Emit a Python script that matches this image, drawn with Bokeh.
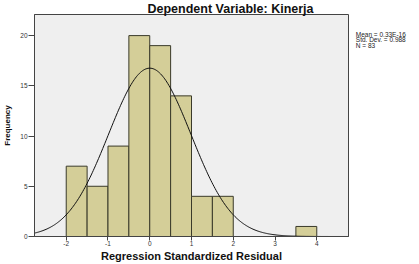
import numpy as np
from bokeh.plotting import figure
from bokeh.layouts import row
from bokeh.models import FixedTicker, Range1d
from bokeh.core.properties import value
from bokeh.embed import file_html
from bokeh.resources import INLINE

# Histogram bins (Regression Standardized Residual) and frequencies
bin_left = [-2.0, -1.5, -1.0, -0.5, 0.0, 0.5, 1.0, 1.5, 3.5]
bin_right = [-1.5, -1.0, -0.5, 0.0, 0.5, 1.0, 1.5, 2.0, 4.0]
counts = [7, 5, 9, 20, 19, 14, 4, 4, 1]

# Summary statistics shown on the chart
mean_val = 0.0
std_dev = 0.988
n_obs = 83
bin_width = 0.5
stats_lines = ["Mean = 0.33E-16", "Std. Dev. = 0.988", "N = 83"]
stats_y = [20.1, 19.58, 19.06]

x_ticks = [-2, -1, 0, 1, 2, 3, 4]
x_tick_labels = ["-2", "-1", "0", "1", "2", "3", "4"]
y_ticks = [0, 5, 10, 15, 20]

FONT = "Liberation Sans"
X0, X1, Y0, Y1 = -2.76, 4.76, 0, 22.1

p = figure(width=349, height=264, output_backend="svg", toolbar_location=None,
           x_range=Range1d(X0, X1), y_range=Range1d(Y0, Y1),
           min_border_left=31, min_border_right=1, min_border_top=14,
           min_border_bottom=28)

p.background_fill_color = "#EFEFEF"
p.border_fill_color = "white"
p.outline_line_color = "#444444"
p.outline_line_width = 1
p.grid.visible = False

p.title.text = "Dependent Variable: Kinerja"
p.title.text_font = FONT
p.title.text_font_style = "bold"
p.title.text_font_size = "12.5px"
p.title.align = "left"
p.title.offset = 113
p.title.standoff = -3
p.title.text_color = "#111111"

p.quad(left=bin_left, right=bin_right, bottom=0, top=counts,
       fill_color="#D4CE98", line_color="#3A3A2A", line_width=1)

# Normal curve from the stated mean, std dev and N
xs = np.linspace(X0, X1, 300)
ys = n_obs * bin_width / (std_dev * np.sqrt(2 * np.pi)) * np.exp(-0.5 * ((xs - mean_val) / std_dev) ** 2)
p.line(xs, ys, line_color="#111111", line_width=1)

xa = p.xaxis[0]
xa.ticker = FixedTicker(ticks=x_ticks)
xa.major_label_overrides = {t: l for t, l in zip(x_ticks, x_tick_labels)}
xa.axis_label = "Regression Standardized Residual"
ya = p.yaxis[0]
ya.ticker = FixedTicker(ticks=y_ticks)
ya.axis_label = "Frequency"

for ax in (xa, ya):
    ax.axis_label_text_font = FONT
    ax.axis_label_text_font_style = "bold"
    ax.axis_label_text_color = "#111111"
    ax.major_label_text_font = FONT
    ax.major_label_text_font_size = "6.5px"
    ax.major_label_text_color = "#333333"
    ax.major_tick_in = 0
    ax.minor_tick_out = 0
    ax.minor_tick_in = 0
    ax.major_tick_line_color = "#444444"
    ax.axis_line_color = "#444444"

xa.axis_label_text_font_size = "11px"
xa.major_tick_out = 4
xa.major_label_standoff = 0
xa.axis_label_standoff = 1
ya.axis_label_text_font_size = "8px"
ya.major_tick_out = 6
ya.major_label_standoff = 1
ya.axis_label_standoff = 5

# Side panel with the summary statistics
q = figure(width=70, height=264, output_backend="svg", toolbar_location=None,
           x_range=Range1d(0, 1), y_range=p.y_range,
           min_border_left=0, min_border_right=0, min_border_top=14,
           min_border_bottom=28)
q.axis.visible = False
q.grid.visible = False
q.outline_line_color = None
q.background_fill_color = "white"
q.border_fill_color = "white"
q.text(x=[0.09] * len(stats_lines), y=stats_y, text=stats_lines,
       text_font=value(FONT), text_font_size="6.5px", text_color="#222222",
       text_baseline="middle", text_align="left")

layout = row(p, q, spacing=0)
open("out.html", "w").write(file_html(layout, INLINE))
